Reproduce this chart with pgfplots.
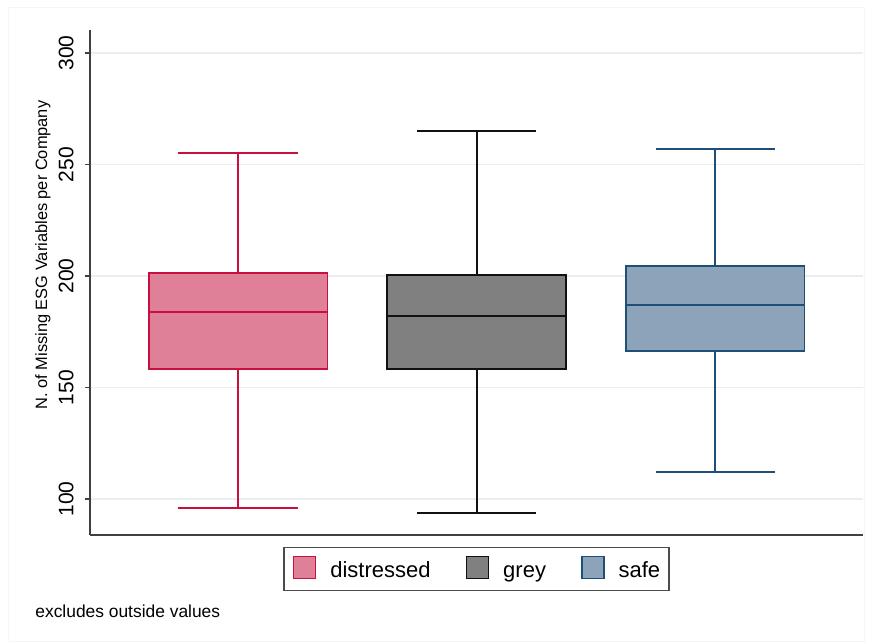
\documentclass[border=0pt]{standalone}
\usepackage{pgfplots}
\pgfplotsset{compat=1.18}
\usepgfplotslibrary{statistics}
\usepackage{fontspec}
\setmainfont{Liberation Sans}
\definecolor{distfill}{HTML}{E08098}
\definecolor{distline}{HTML}{C8103E}
\definecolor{greyfill}{HTML}{808080}
\definecolor{greyline}{HTML}{111111}
\definecolor{safefill}{HTML}{8CA3BA}
\definecolor{safeline}{HTML}{1F4E79}
\definecolor{gridc}{HTML}{EAEEF0}
\begin{document}
\begin{tikzpicture}[x=1pt,y=1pt]
\path (0,0) rectangle (436.5,321.5);
\draw[gray!8, line width=0.5pt] (4,1) rectangle (432,317.5);
\begin{axis}[
  at={(45pt,54pt)}, anchor=south west,
  scale only axis, width=386.5pt, height=252.5pt,
  xmin=0.379, xmax=3.62, ymin=83.9, ymax=310.3,
  axis x line*=bottom, axis y line*=left,
  axis line style={black!75, line width=0.9pt, -},
  xtick=\empty,
  ytick={100,150,200,250,300},
  tick align=outside, major tick length=2.5pt,
  tick style={black!75, line width=0.8pt},
  ymajorgrids, grid style={gridc, line width=0.7pt},
  yticklabel style={rotate=90, anchor=south, font=\fontsize{10.5}{12}\selectfont, inner sep=5.5pt},
  /pgf/number format/assume math mode=true,
  boxplot/draw direction=y,
  legend style={at={(0.5,-0.0673)}, anchor=center, legend columns=3,
    draw=black!70, line width=0.8pt, inner xsep=4.5pt, inner ysep=4pt,
    font=\fontsize{11}{13}\selectfont,
    nodes={inner sep=0pt, text height=8.5pt, text depth=2.5pt},
    /tikz/every odd column/.append style={column sep=7pt},
    /tikz/every even column/.append style={column sep=17.5pt}},
]
\addplot[boxplot prepared={median=184, upper quartile=201.3, lower quartile=158.3,
  upper whisker=255, lower whisker=96, draw position=1, box extend=0.75, whisker extend=0.5},
  draw=distline, fill=distfill, line width=0.9pt, forget plot] coordinates {};
\addplot[boxplot prepared={median=182, upper quartile=200.4, lower quartile=158.3,
  upper whisker=265, lower whisker=93.7, draw position=2, box extend=0.75, whisker extend=0.5},
  draw=greyline, fill=greyfill, line width=0.9pt, forget plot] coordinates {};
\addplot[boxplot prepared={median=187, upper quartile=204.5, lower quartile=166.4,
  upper whisker=257, lower whisker=112, draw position=3, box extend=0.75, whisker extend=0.5},
  draw=safeline, fill=safefill, line width=0.9pt, forget plot] coordinates {};
\addlegendimage{legend image code/.code={\draw[draw=distline,fill=distfill,line width=0.8pt] (0pt,-3.5pt) rectangle (11pt,7.5pt);}}
\addlegendentry{distressed}
\addlegendimage{legend image code/.code={\draw[draw=greyline,fill=greyfill,line width=0.8pt] (0pt,-3.5pt) rectangle (11pt,7.5pt);}}
\addlegendentry{grey}
\addlegendimage{legend image code/.code={\draw[draw=safeline,fill=safefill,line width=0.8pt] (0pt,-3.5pt) rectangle (11pt,7.5pt);}}
\addlegendentry{safe}
\end{axis}
\node[rotate=90, font=\fontsize{8.2}{10}\selectfont, inner sep=0pt] at (21.5pt,194pt) {N. of Missing ESG Variables per Company};
\node[anchor=west, font=\fontsize{8.7}{10}\selectfont, inner sep=0pt] at (17.5pt,16pt) {excludes outside values};
\end{tikzpicture}
\end{document}
